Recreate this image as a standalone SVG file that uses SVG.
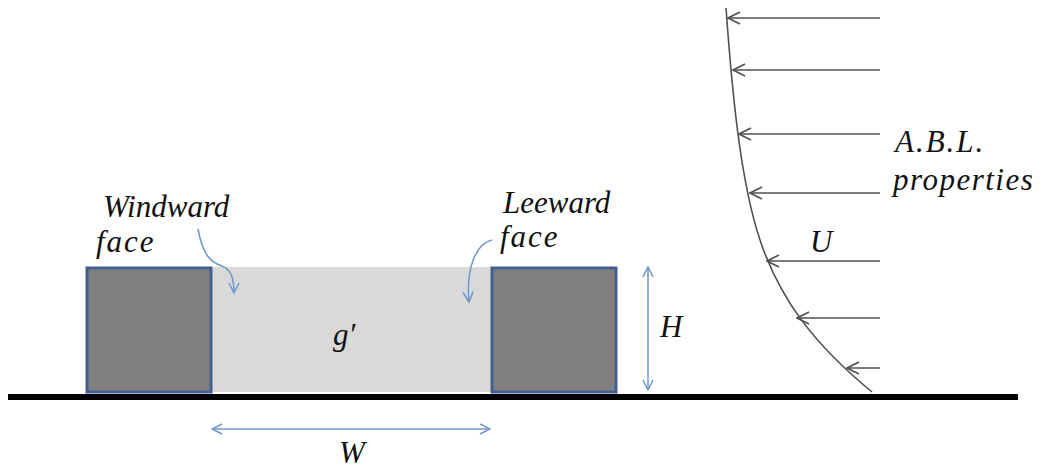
<svg xmlns="http://www.w3.org/2000/svg" width="1054" height="468" viewBox="0 0 1054 468">
<style>
.bld{fill:#7f7f7f;stroke:#42608f;stroke-width:3}
.blue{fill:none;stroke:#7096cb;stroke-width:1.5}
.wind{fill:none;stroke:#505050;stroke-width:1.6}
</style>
<defs>
<marker id="ab" viewBox="0 0 12 12" refX="11" refY="6" markerWidth="12" markerHeight="12" markerUnits="userSpaceOnUse" orient="auto-start-reverse">
<path d="M1,1 L11,6 L1,11" fill="none" stroke="#7096cb" stroke-width="1.5"/>
</marker>
<marker id="ag" viewBox="0 0 14 14" refX="13" refY="7" markerWidth="14" markerHeight="14" markerUnits="userSpaceOnUse" orient="auto">
<path d="M1,1 L13,7 L1,13" fill="none" stroke="#505050" stroke-width="1.6"/>
</marker>
</defs>
<rect id="gap" x="211" y="267" width="280" height="125" fill="#d9d9d9"/>
<g id="left-building"><rect class="bld" x="87" y="268" width="124" height="124"/></g>
<g id="right-building"><rect class="bld" x="492" y="268" width="124" height="124"/></g>
<rect id="ground" x="8" y="394" width="1010" height="6" fill="#000"/>
<g id="profile"><path d="M726,8 C732,90 740,180 760,240 C780,300 815,345 872,392" fill="none" stroke="#505050" stroke-width="1.6"/></g>
<g id="connectors">
<path class="blue" d="M198,229 C203,255 210,262 222,266 C232,270 234,280 234,293" marker-end="url(#ab)"/>
<path class="blue" d="M492,240 C475,244 466,270 469,302" marker-end="url(#ab)"/>
<line class="blue" x1="648" y1="267" x2="648" y2="390" marker-start="url(#ab)" marker-end="url(#ab)"/>
<line class="blue" x1="212" y1="429" x2="490" y2="429" marker-start="url(#ab)" marker-end="url(#ab)"/>
<line class="wind" x1="880" y1="18" x2="728" y2="18" marker-end="url(#ag)"/>
<line class="wind" x1="880" y1="70" x2="733" y2="70" marker-end="url(#ag)"/>
<line class="wind" x1="880" y1="134" x2="739" y2="134" marker-end="url(#ag)"/>
<line class="wind" x1="880" y1="193" x2="750" y2="193" marker-end="url(#ag)"/>
<line class="wind" x1="880" y1="261" x2="767" y2="261" marker-end="url(#ag)"/>
<line class="wind" x1="880" y1="318" x2="797" y2="318" marker-end="url(#ag)"/>
<line class="wind" x1="880" y1="368" x2="847" y2="368" marker-end="url(#ag)"/>
</g>
<g id="labels" font-family="Liberation Serif, serif" font-style="italic" font-size="31" fill="#111">
<text x="103" y="217">Windward</text>
<text x="96" y="252" letter-spacing="2">face</text>
<text x="503" y="213">Leeward</text>
<text x="500" y="247" letter-spacing="2">face</text>
<text x="333" y="345">g′</text>
<text x="660" y="337">H</text>
<text x="810" y="252">U</text>
<text x="339" y="463">W</text>
<text x="895" y="152" letter-spacing="2">A.B.L.</text>
<text x="893" y="190" letter-spacing="1.5">properties</text>
</g>
</svg>
